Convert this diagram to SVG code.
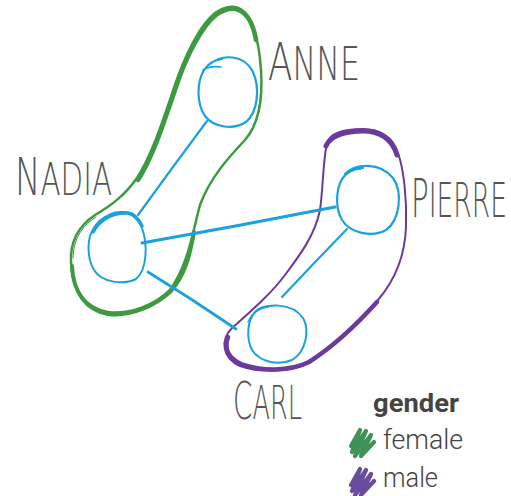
<svg xmlns="http://www.w3.org/2000/svg" width="511" height="496" viewBox="0 0 511 496">
<style>
.node{fill:none;stroke:#1ba1de;stroke-linecap:round;stroke-linejoin:round}
.link{fill:none;stroke:#1ba1de;stroke-linecap:round}
.hullF{fill:none;stroke:#3d9a40;stroke-linecap:round;stroke-linejoin:round}
.hullM{fill:none;stroke:#6b3a9c;stroke-linecap:round;stroke-linejoin:round}
.lbl{font-family:"DejaVu Sans","Roboto",sans-serif;font-weight:200;fill:#555}
.leg{font-family:Roboto,"Liberation Sans",sans-serif;fill:#444}
</style>
<rect width="511" height="496" fill="#ffffff"/>
<g id="hulls">
<g id="hull-female">
<path class="hullF" stroke-width="2.5" d="M235,7 C252,10 259,40 261,70 C263,100 258,125 245,140 C228,158 210,178 200,205 C192,235 188,265 170,290 C155,305 130,315 108,312 C85,308 72,290 71,262 C70,240 80,225 95,215 C112,205 125,195 137,178 C152,155 163,120 175,85 C185,55 200,25 215,13 C222,8 230,6 235,7 Z"/>
<path class="hullF" stroke-width="4.5" d="M138,180 C153,157 164,122 176,87 C186,57 201,27 216,15 C223,10 231,8 236,9 C247,12 253,22 256,40"/>
<path class="hullF" stroke-width="4" d="M72,266 C73,292 86,310 108,314 C130,317 155,306 171,291 C185,275 190,255 194,232"/>
<path class="hullF" stroke-width="1" d="M96,217 C84,224 73,238 73,258"/>
</g>
<g id="hull-male">
<path class="hullM" stroke-width="2" d="M327,143 C330,133 345,129 363,129 C380,129 393,137 398,153 C404,170 407,200 406,227 C405,255 395,280 378,300 C360,320 335,345 310,362 C290,373 260,373 240,366 C222,358 220,340 232,328 C250,312 270,295 285,275 C300,255 315,235 320,210 C323,190 323,160 327,143 Z"/>
<path class="hullM" stroke-width="5" d="M326,146 C330,136 345,131 363,131 C380,131 392,139 397,155"/>
<path class="hullM" stroke-width="4.5" d="M377,302 C359,322 334,346 309,362 C289,372 261,371 241,364 C228,358 224,348 228,337"/>
</g>
</g>
<g id="links">
<path class="link" stroke-width="2.2" d="M207,121 Q172,168 138,215"/>
<path class="link" stroke-width="3" d="M142,243 Q238,226 335,207"/>
<path class="link" stroke-width="2.8" d="M148,272 Q192,299 236,329"/>
<path class="link" stroke-width="2.2" d="M347,229 Q314,263 282,297"/>
</g>
<g id="node-anne">
<path class="node" stroke-width="2.2" d="M210,64 C222,54 244,54 253,72 C260,88 258,112 246,122 C234,130 214,128 205,116 C197,104 196,84 204,70 C208,64 214,60 222,59"/>
<path class="node" stroke-width="1.6" d="M203,70 C208,67 214,66 221,67"/>
</g>
<g id="node-nadia">
<path class="node" stroke-width="2" d="M100,223 C112,207 134,208 142,228 C148,245 147,270 136,279 C124,285 102,283 94,270 C87,258 86,238 95,226 C100,219 108,214 118,213"/>
<path class="node" stroke-width="3.5" d="M93,232 C100,219 114,212 128,213 C135,214 139,220 142,226"/>
</g>
<g id="node-pierre">
<path class="node" stroke-width="2.2" d="M345,174 C356,163 380,162 393,178 C403,192 400,220 386,230 C372,238 350,233 342,220 C334,206 336,184 346,174 C350,170 356,168 363,168"/>
<path class="node" stroke-width="1.6" d="M343,178 C348,172 355,169 361,169"/>
</g>
<g id="node-carl">
<path class="node" stroke-width="2" d="M255,312 C265,303 292,302 303,318 C310,330 306,352 292,360 C278,366 260,362 252,350 C246,338 247,320 256,311 C260,307 266,306 272,306"/>
<path class="node" stroke-width="1.4" d="M248,322 C252,313 260,308 268,307"/>
</g>
<g id="labels">
<text class="lbl" transform="translate(15,195) scale(0.654,1)"><tspan font-size="52">N</tspan><tspan font-size="45">ADIA</tspan></text>
<text class="lbl" transform="translate(268,80) scale(0.689,1)"><tspan font-size="52">A</tspan><tspan font-size="46">NNE</tspan></text>
<text class="lbl" transform="translate(411,217) scale(0.553,1)"><tspan font-size="53">P</tspan><tspan font-size="48">IERRE</tspan></text>
<text class="lbl" transform="translate(233,419) scale(0.545,1)"><tspan font-size="51">C</tspan><tspan font-size="47">ARL</tspan></text>
</g>
<g id="legend">
<text class="leg" x="373" y="412" font-size="26" font-weight="bold" textLength="86" lengthAdjust="spacingAndGlyphs">gender</text>
<path fill="none" stroke="#3f9157" stroke-width="4.2" stroke-linejoin="round" stroke-linecap="round" d="M351,446 L360,430 L352,452 L366,431 L355,456 L371,435 L361,456 L374,442"/>
<text class="leg" x="383" y="449" font-size="28" font-weight="300" textLength="80" lengthAdjust="spacingAndGlyphs">female</text>
<path fill="none" stroke="#6a4c9c" stroke-width="4.2" stroke-linejoin="round" stroke-linecap="round" d="M351,485 L360,469 L352,491 L366,470 L355,495 L371,474 L361,495 L374,481"/>
<text class="leg" x="383" y="487" font-size="28" font-weight="300" textLength="55" lengthAdjust="spacingAndGlyphs">male</text>
</g>
</svg>
